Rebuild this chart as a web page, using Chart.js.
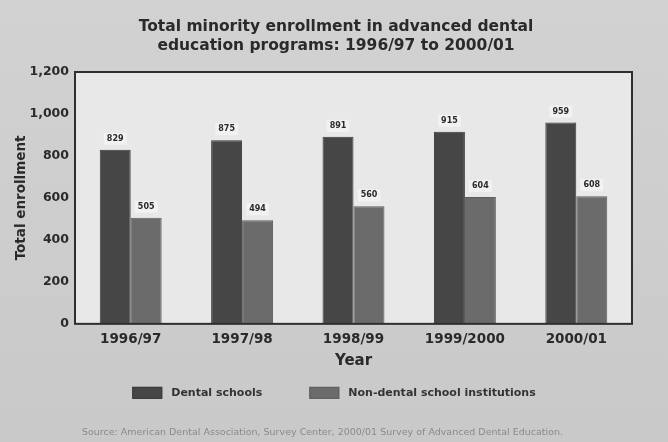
<!DOCTYPE html>
<html>
<head>
<meta charset="utf-8">
<script src="https://cdn.jsdelivr.net/npm/chart.js@4"></script>
<style>
  html, body { margin: 0; padding: 0; background: #cdcdcd; }
  #wrap { width: 668px; height: 442px; }
</style>
</head>
<body>
<div id="wrap"><canvas id="chart" width="668" height="442"></canvas></div>
<script>
// ===== dados =====
const anos = ["1996/97", "1997/98", "1998/99", "1999/2000", "2000/01"];
const escolasDentais = [829, 875, 891, 915, 959];
const naoDentais = [505, 494, 560, 604, 608];
const yTicks = [0, 200, 400, 600, 800, 1000, 1200];
const titulo = ["Total minority enrollment in advanced dental", "education programs: 1996/97 to 2000/01"];

const FONTE = "'DejaVu Sans', Verdana, sans-serif";

// fundo cinza, título, moldura, rótulos de valor e legenda
const fundo = {
  id: "fundo",
  beforeDraw(chart) {
    const { ctx, width, height, chartArea: a } = chart;
    ctx.save();
    const g = ctx.createLinearGradient(0, 0, 0, height);
    g.addColorStop(0, "#d2d2d2");
    g.addColorStop(1, "#c9c9c9");
    ctx.fillStyle = g;
    ctx.fillRect(0, 0, width, height);
    ctx.fillStyle = "#e8e8e8";
    ctx.fillRect(a.left, a.top, a.right - a.left, a.bottom - a.top);

    // título centrado na página
    ctx.font = "bold 15.5px " + FONTE;
    ctx.fillStyle = "#2a2a2a";
    ctx.textAlign = "center";
    ctx.textBaseline = "middle";
    titulo.forEach((linha, i) => ctx.fillText(linha, width / 2 + 2, 27 + i * 19));
    ctx.restore();
  },
  afterDatasetsDraw(chart) {
    const { ctx, chartArea: a } = chart;
    ctx.save();
    ctx.strokeStyle = "#2e2e2e";
    ctx.lineWidth = 2;
    ctx.strokeRect(a.left, a.top, a.right - a.left, a.bottom - a.top);

    // rótulos de valor sobre as barras
    ctx.font = "bold 8px " + FONTE;
    ctx.textAlign = "center";
    ctx.textBaseline = "middle";
    chart.data.datasets.forEach((ds, i) => {
      chart.getDatasetMeta(i).data.forEach((bar, j) => {
        const txt = String(ds.data[j]);
        const w = ctx.measureText(txt).width + 6;
        const y = bar.y - 11;
        ctx.fillStyle = "#f2f2f2";
        ctx.fillRect(bar.x - w / 2, y - 6, w, 12);
        ctx.fillStyle = "#2a2a2a";
        ctx.fillText(txt, bar.x, y);
      });
    });

    // legenda (desenhada à mão para ter o espaçamento largo do original)
    ctx.font = "bold 11px " + FONTE;
    ctx.textAlign = "left";
    const itens = chart.data.datasets.map(ds => ({
      txt: ds.label, cor: ds.backgroundColor, borda: ds.borderColor,
      w: 30 + 9 + ctx.measureText(ds.label).width
    }));
    const gap = 47;
    const total = itens.reduce((s, it) => s + it.w, 0) + gap * (itens.length - 1);
    let x = chart.width / 2 - total / 2;
    const y = a.bottom + 69;
    itens.forEach(it => {
      ctx.fillStyle = it.cor;
      ctx.fillRect(x, y - 6, 30, 12);
      ctx.strokeStyle = it.borda;
      ctx.lineWidth = 1;
      ctx.strokeRect(x + 0.5, y - 5.5, 29, 11);
      ctx.fillStyle = "#333";
      ctx.fillText(it.txt, x + 39, y);
      x += it.w + gap;
    });
    ctx.restore();
  }
};

new Chart(document.getElementById("chart"), {
  type: "bar",
  data: {
    labels: anos,
    datasets: [
      {
        label: "Dental schools",
        data: escolasDentais,
        backgroundColor: "#464646",
        borderColor: "#3a3a3a",
        borderWidth: 1
      },
      {
        label: "Non-dental school institutions",
        data: naoDentais,
        backgroundColor: "#6b6b6b",
        borderColor: "#5e5e5e",
        borderWidth: 1
      }
    ]
  },
  options: {
    responsive: false,
    animation: false,
    layout: { padding: { left: 13, right: 36, top: 72, bottom: 0 } },
    datasets: { bar: { categoryPercentage: 0.556, barPercentage: 1.0 } },
    plugins: {
      title: { display: false },
      subtitle: {
        display: true,
        position: "bottom",
        text: "Source: American Dental Association, Survey Center, 2000/01 Survey of Advanced Dental Education.",
        color: "#8a8a8a",
        font: { family: FONTE, size: 9.5 },
        padding: { top: 60, bottom: 4 }
      },
      legend: { display: false },
      tooltip: { enabled: false }
    },
    scales: {
      x: {
        grid: { display: false, drawTicks: false },
        border: { display: false },
        ticks: { color: "#2a2a2a", font: { family: FONTE, size: 13.5, weight: "bold", lineHeight: 1.0 }, padding: 9 },
        title: { display: true, text: "Year", color: "#2a2a2a", font: { family: FONTE, size: 15, weight: "bold", lineHeight: 0.75 }, padding: { top: 0, bottom: 0 } }
      },
      y: {
        min: 0,
        max: 1200,
        afterBuildTicks(axis) { axis.ticks = yTicks.map(v => ({ value: v })); },
        afterFit(axis) { axis.width = 62; },
        grid: { display: false, drawTicks: false },
        border: { display: false },
        ticks: {
          color: "#2a2a2a",
          font: { family: FONTE, size: 12.5, weight: "bold" },
          padding: 6,
          callback: v => v.toLocaleString("en-US")
        },
        title: { display: true, text: "Total enrollment", color: "#2a2a2a", font: { family: FONTE, size: 13.5, weight: "bold" }, padding: { top: 0, bottom: 2 } }
      }
    }
  },
  plugins: [fundo]
});
</script>
</body>
</html>
